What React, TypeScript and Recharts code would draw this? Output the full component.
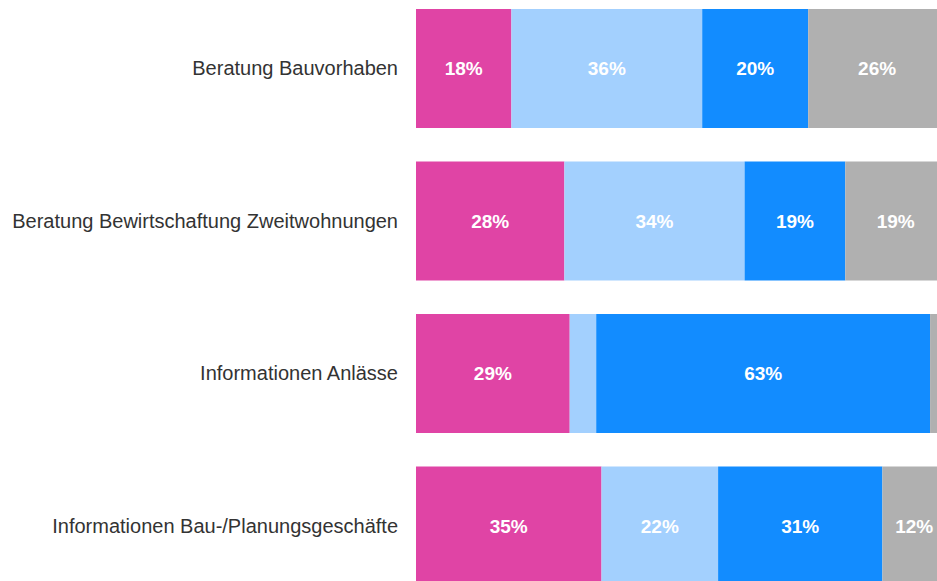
import { BarChart, Bar, XAxis, YAxis, LabelList } from "recharts"

// rows from top to bottom
const categories = [
    "Beratung Bauvorhaben",
    "Beratung Bewirtschaftung Zweitwohnungen",
    "Informationen Anlässe",
    "Informationen Bau-/Planungsgeschäfte",
]

// share per answer group, in percent
const pinkValues = [18, 28, 29, 35]
const lightBlueValues = [36, 34, 5, 22]
const blueValues = [20, 19, 63, 31]
const greyValues = [26, 19, 3, 12]

const series = [
    { key: "pink", values: pinkValues, color: "#e044a5" },
    { key: "lightBlue", values: lightBlueValues, color: "#a3d0fe" },
    { key: "blue", values: blueValues, color: "#128cff" },
    { key: "grey", values: greyValues, color: "#b0b0b0" },
]

const data = categories.map((name, i) => {
    const row: Record<string, string | number> = { name }
    series.forEach((s) => {
        row[s.key] = s.values[i]
    })
    return row
})

// small segments stay unlabelled
function formatPercent(value: unknown) {
    const v = Number(value)
    return v >= 10 ? `${v}%` : ""
}

export default function App() {
    return (
        <div style={{ position: "absolute", left: 0, top: -8 }}>
            <BarChart
                width={946}
                height={610}
                data={data}
                layout="vertical"
                margin={{ top: 0, right: 0, bottom: 0, left: 0 }}
                barSize={119}
                style={{ fontFamily: "'Liberation Sans', Arial, sans-serif" }}
            >
                <XAxis type="number" domain={[0, 100]} hide />
                <YAxis
                    type="category"
                    dataKey="name"
                    width={416}
                    axisLine={false}
                    tickLine={false}
                    tickMargin={12}
                    tick={{ fontSize: 20, fill: "#333333" }}
                />
                {series.map((s) => (
                    <Bar key={s.key} dataKey={s.key} stackId="a" fill={s.color} isAnimationActive={false}>
                        <LabelList
                            dataKey={s.key}
                            position="center"
                            formatter={formatPercent}
                            fill="#ffffff"
                            fontSize={19}
                            fontWeight="bold"
                        />
                    </Bar>
                ))}
            </BarChart>
        </div>
    )
}
